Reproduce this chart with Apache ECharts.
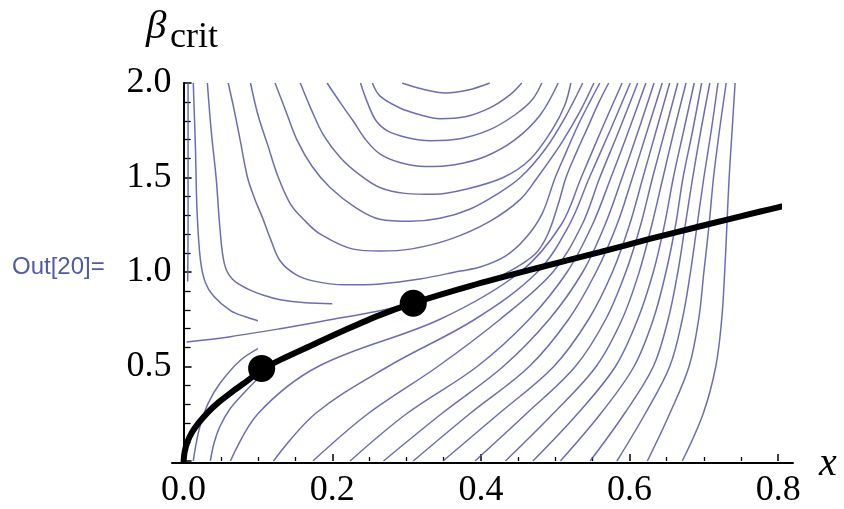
<!DOCTYPE html>
<html><head><meta charset="utf-8">
<script src="https://cdn.jsdelivr.net/npm/echarts@6.0.0/dist/echarts.min.js"></script>
<style>html,body{margin:0;padding:0;background:#fff}#c{width:844px;height:509px}</style>
</head><body><div id="c"></div>
<script>
// ---------- data (x, beta) ----------
const xTicks = [0, 0.2, 0.4, 0.6, 0.8];
const betaTicks = [0.5, 1.0, 1.5, 2.0];

// curves rising from the x axis: x position at each beta level
const fanBeta = [0, 0.25, 0.5, 0.75, 1.0, 1.25, 1.5, 1.75, 2.0];
const fan01 = [0.063, 0.100, 0.181, 0.345, 0.453, 0.508, 0.535, 0.562, 0.590];
const fan02 = [0.121, 0.177, 0.275, 0.392, 0.476, 0.519, 0.546, 0.574, 0.601];
const fan03 = [0.174, 0.248, 0.342, 0.426, 0.497, 0.536, 0.560, 0.586, 0.611];
const fan04 = [0.224, 0.300, 0.395, 0.465, 0.516, 0.550, 0.575, 0.599, 0.622];
const fan05 = [0.269, 0.347, 0.430, 0.492, 0.537, 0.567, 0.590, 0.612, 0.633];
const fan06 = [0.309, 0.385, 0.465, 0.518, 0.555, 0.583, 0.604, 0.624, 0.644];
const fan07 = [0.349, 0.424, 0.498, 0.545, 0.577, 0.600, 0.618, 0.636, 0.654];
const fan08 = [0.392, 0.461, 0.527, 0.568, 0.595, 0.615, 0.631, 0.648, 0.665];
const fan09 = [0.433, 0.497, 0.555, 0.590, 0.613, 0.630, 0.645, 0.660, 0.676];
const fan10 = [0.470, 0.530, 0.581, 0.611, 0.632, 0.647, 0.659, 0.673, 0.687];
const fan11 = [0.507, 0.561, 0.606, 0.632, 0.649, 0.662, 0.672, 0.685, 0.697];
const fan12 = [0.547, 0.593, 0.632, 0.652, 0.665, 0.675, 0.685, 0.696, 0.708];
const fan13 = [0.583, 0.621, 0.654, 0.671, 0.682, 0.691, 0.700, 0.710, 0.719];
const fan14 = [0.624, 0.654, 0.680, 0.693, 0.700, 0.707, 0.713, 0.721, 0.730];
const fan15 = [0.671, 0.699, 0.716, 0.724, 0.728, 0.731, 0.734, 0.738, 0.742];

// U-shaped curves in the upper part
const curveU1 = [[0.294,2],[0.321,1.968],[0.352,1.947],[0.383,1.963],[0.412,2]];
const curveU2 = [[0.254,2],[0.264,1.932],[0.291,1.868],[0.318,1.832],[0.345,1.811],[0.379,1.821],[0.412,1.868],[0.439,1.937],[0.455,2]];
const curveU3 = [[0.238,2],[0.247,1.9],[0.259,1.80],[0.275,1.745],[0.300,1.712],[0.332,1.695],[0.372,1.705],[0.412,1.753],[0.446,1.832],[0.469,1.911],[0.482,2]];
const curveU4 = [[0.193,2],[0.211,1.895],[0.228,1.800],[0.246,1.695],[0.264,1.625],[0.291,1.579],[0.325,1.558],[0.365,1.568],[0.406,1.611],[0.446,1.700],[0.480,1.832],[0.504,2]];
const curveU5 = [[0.157,2],[0.172,1.858],[0.188,1.726],[0.211,1.605],[0.238,1.511],[0.264,1.447],[0.298,1.416],[0.338,1.411],[0.379,1.437],[0.430,1.5],[0.466,1.595],[0.496,1.753],[0.513,1.884],[0.521,2]];
const curveU6 = [[0.123,2],[0.138,1.847],[0.153,1.695],[0.173,1.558],[0.197,1.447],[0.231,1.342],[0.264,1.279],[0.305,1.268],[0.345,1.284],[0.385,1.332],[0.419,1.405],[0.453,1.5],[0.486,1.647],[0.513,1.816],[0.537,2]];
const curveU7 = [[0.090,2],[0.100,1.832],[0.113,1.674],[0.127,1.505],[0.144,1.358],[0.164,1.268],[0.184,1.2],[0.228,1.121],[0.264,1.111],[0.305,1.121],[0.359,1.174],[0.412,1.268],[0.453,1.384],[0.476,1.5],[0.507,1.674],[0.533,1.847],[0.552,2]];
const curveC  = [[0.060,2],[0.068,1.858],[0.076,1.7],[0.086,1.5],[0.096,1.384],[0.106,1.289],[0.117,1.174],[0.130,1.058],[0.150,0.989],[0.174,0.953],[0.217,0.932],[0.264,0.937],[0.318,0.963],[0.372,1.005],[0.399,1.026],[0.433,1.084],[0.459,1.174],[0.482,1.305],[0.500,1.5],[0.515,1.637],[0.531,1.779],[0.548,1.911],[0.560,2]];
const curveSep = [[0.004,0.63],[0.063,0.658],[0.130,0.70],[0.197,0.747],[0.264,0.795],[0.332,0.858],[0.399,0.937],[0.439,1.005],[0.473,1.095],[0.490,1.2],[0.504,1.358],[0.5145,1.5],[0.529,1.637],[0.544,1.768],[0.559,1.9],[0.572,2]];

// short curves near the beta axis
const curveA0 = [[0.006,2],[0.006,1.6],[0.006,1.25],[0.0055,0.95]];
const curveA  = [[0.013,2],[0.016,1.647],[0.018,1.332],[0.0225,1.068],[0.029,0.947],[0.040,0.874],[0.063,0.795],[0.083,0.763],[0.1,0.742]];
const curveB  = [[0.032,2],[0.037,1.753],[0.044,1.489],[0.049,1.226],[0.055,1.042],[0.0655,0.963],[0.086,0.911],[0.110,0.874],[0.130,0.853],[0.164,0.837],[0.2,0.832]];
const curveD1 = [[0.013,0],[0.017,0.095],[0.0225,0.189],[0.033,0.305],[0.049,0.411],[0.076,0.532],[0.1,0.595]];
const curveD2 = [[0.036,0],[0.041,0.095],[0.049,0.184],[0.063,0.279],[0.083,0.368],[0.1,0.437]];

// critical curve beta_crit(x) and marked points
const criticalCurve = [[0,0],[0.0015,0.05],[0.005,0.10],[0.011,0.15],[0.020,0.20],[0.032,0.255],[0.047,0.31],[0.065,0.365],[0.086,0.425],[0.106,0.485],[0.130,0.535],[0.174,0.615],[0.220,0.698],[0.264,0.772],[0.309,0.835],[0.385,0.925],[0.475,1.020],[0.560,1.105],[0.627,1.175],[0.695,1.242],[0.776,1.320],[0.805,1.347]];
const markedPoints = [[0.105, 0.49], [0.309, 0.835]];

// ---------- chart ----------
const fans = [fan01,fan02,fan03,fan04,fan05,fan06,fan07,fan08,fan09,fan10,fan11,fan12,fan13,fan14,fan15];
const others = [curveU1,curveU2,curveU3,curveU4,curveU5,curveU6,curveU7,curveC,curveSep,curveA0,curveA,curveB,curveD1,curveD2];
const contourColor = 'rgba(82,84,168,0.85)';
const series = [];
function addContour(data){
  series.push({type:'line', xAxisIndex:0, yAxisIndex:0, data, symbol:'none', smooth:0.35,
    lineStyle:{color:contourColor, width:1.5}, silent:true, z:2});
}
fans.forEach(f => addContour(f.map((x,i)=>[x, fanBeta[i]])));
others.forEach(c => addContour(c));
series.push({type:'line', xAxisIndex:0, yAxisIndex:0, data:criticalCurve, symbol:'none', smooth:0.3,
  clip:false, lineStyle:{color:'#000', width:6, cap:'round'}, silent:true, z:5});
series.push({type:'scatter', xAxisIndex:0, yAxisIndex:0, data:markedPoints, symbol:'circle', symbolSize:27,
  itemStyle:{color:'#000', opacity:1}, silent:true, z:6});

const serif = '"Liberation Serif", "Times New Roman", serif';
const tickStyle = {color:'#000', width:1.5};
const option = {
  animation:false,
  backgroundColor:'#fff',
  grid:[
    {left:183.6, right:65.8, top:83, bottom:46},
    {left:172, right:51, top:83, bottom:46}
  ],
  xAxis:[
    {gridIndex:0, type:'value', min:xTicks[0], max:xTicks[xTicks.length-1], interval:0.2,
     axisLine:{show:false},
     axisTick:{show:true, inside:true, length:7, lineStyle:tickStyle},
     minorTick:{show:true, splitNumber:4, length:4, lineStyle:{color:'#000', width:1.3}},
     splitLine:{show:false}, minorSplitLine:{show:false},
     axisLabel:{formatter:v=>v.toFixed(1), color:'#000', fontFamily:serif, fontSize:36, margin:12}},
    {gridIndex:1, type:'value', min:0, max:1,
     axisLine:{show:true, onZero:false, lineStyle:{color:'#000', width:2}},
     axisTick:{show:false}, axisLabel:{show:false}, splitLine:{show:false}}
  ],
  yAxis:[
    {gridIndex:0, type:'value', min:0, max:betaTicks[betaTicks.length-1], interval:0.5,
     axisLine:{show:true, onZero:false, lineStyle:{color:'#000', width:2}},
     axisTick:{show:true, inside:true, length:8, lineStyle:tickStyle},
     minorTick:{show:true, splitNumber:5, length:7, lineStyle:{color:'#000', width:1.3}},
     splitLine:{show:false}, minorSplitLine:{show:false},
     axisLabel:{formatter:v=>(v===0?'':v.toFixed(1)), color:'#000', fontFamily:serif, fontSize:36, margin:12}},
    {gridIndex:1, type:'value', min:0, max:1, show:false}
  ],
  graphic:[
    {type:'text', x:146, y:27, style:{text:'β', font:'italic 41px "Liberation Serif"', fill:'#000', verticalAlign:'middle'}},
    {type:'text', x:170, y:38, style:{text:'crit', font:'36px "Liberation Serif"', fill:'#000', verticalAlign:'middle'}},
    {type:'text', x:819, y:464, style:{text:'x', font:'italic 40px "Liberation Serif"', fill:'#000', verticalAlign:'middle'}},
    {type:'text', x:12, y:267, style:{text:'Out[20]=', font:'24px "Liberation Sans"', fill:'#4f5ba6', verticalAlign:'middle'}}
  ],
  series
};
const chart = echarts.init(document.getElementById('c'), null, {renderer:'canvas'});
chart.setOption(option);
</script>
</body></html>
